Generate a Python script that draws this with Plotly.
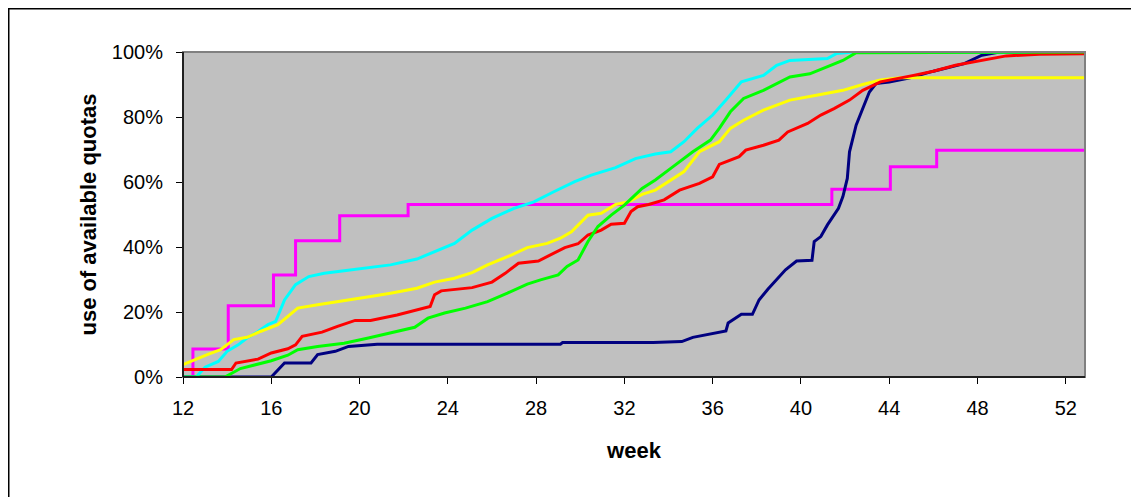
import plotly.graph_objects as go

# ---- data (week, cumulative share of quota used, %) ----
navy_w = [12, 16.0, 16.6, 17.8, 18.1, 18.9, 19.5, 20.8, 29.1, 29.2, 33.3, 34.6, 35.1, 35.9, 36.6, 36.7, 37.3, 37.8,
          38.1, 38.5, 38.9, 39.3, 39.8, 40.5, 40.6, 40.9, 41.2, 41.7, 41.9, 42.1, 42.2, 42.5, 42.8, 43.1, 43.4, 44.0,
          44.9, 46.0, 47.4, 48.2, 49.0, 52.87]
navy_v = [0, 0, 4.3, 4.3, 6.9, 7.9, 9.4, 10.1, 10.1, 10.6, 10.6, 10.9, 12.2, 13.2, 14.2, 16.6, 19.3, 19.3,
          23.7, 27.0, 29.9, 33.0, 35.7, 35.9, 41.7, 43.2, 46.8, 51.9, 55.5, 61.1, 69.3, 77.5, 82.6, 87.7, 90.3, 90.8,
          92.0, 94.1, 96.4, 99.0, 100, 100]

magenta_w = [12, 12.45, 14.05, 16.1, 17.1, 19.1, 22.2, 41.4, 44.05, 46.15, 52.87]
magenta_v = [0, 8.6, 21.9, 31.4, 41.9, 49.6, 53.1, 57.8, 64.7, 69.8, 69.8]

cyan_w = [12, 12.6, 13.0, 13.6, 14.0, 14.5, 14.9, 15.4, 15.85, 16.2, 16.6, 17.1, 17.7, 18.4, 19.3, 20.4, 21.4,
          22.6, 23.4, 24.3, 25.1, 26.0, 27.0, 27.9, 28.8, 29.75, 30.5, 31.6, 32.5, 33.4, 34.1, 34.7, 35.3, 36.0,
          36.6, 37.3, 38.3, 38.9, 39.5, 41.2, 41.6, 42.4, 52.87]
cyan_v = [0, 0, 3.0, 4.8, 7.9, 9.9, 12.0, 14.0, 16.1, 17.1, 23.7, 28.4, 30.9, 31.9, 32.7, 33.7, 34.5,
          36.3, 38.6, 41.1, 45.2, 48.8, 51.9, 53.9, 57.0, 60.1, 62.1, 64.4, 67.2, 68.6, 69.3, 72.4, 76.5, 80.6,
          85.2, 90.8, 92.8, 95.9, 97.4, 98.0, 99.5, 100, 100]

yellow_w = [12, 12.5, 13.1, 13.7, 14.0, 14.3, 14.9, 15.5, 16.3, 16.75, 17.2, 18.1, 19.3, 20.5, 21.4, 22.6, 23.4,
            24.3, 25.1, 25.8, 26.9, 27.6, 28.5, 29.1, 29.6, 30.05, 30.35, 30.95, 31.6, 32.2, 32.8, 33.4, 33.9,
            34.7, 35.4, 36.3, 36.8, 37.4, 38.3, 39.5, 40.7, 41.9, 42.8, 43.6, 44.5, 52.87]
yellow_v = [3.8, 5.3, 6.9, 8.4, 9.9, 11.5, 12.2, 14.0, 16.1, 18.6, 21.2, 22.2, 23.4, 24.8, 25.8, 27.3, 29.2,
            30.4, 32.1, 34.5, 37.6, 39.8, 41.1, 42.7, 44.7, 47.8, 49.8, 50.4, 53.1, 53.9, 56.2, 57.5, 59.6,
            63.2, 69.3, 72.4, 76.5, 79.0, 82.1, 85.2, 86.7, 88.2, 90.0, 91.4, 92.1, 92.1]

red_w = [12, 14.2, 14.4, 15.4, 16.0, 16.75, 17.1, 17.4, 18.3, 19.0, 19.8, 20.5, 21.7, 22.6, 23.2, 23.4, 23.7,
         25.1, 26.0, 26.6, 27.2, 28.1, 28.7, 29.3, 29.9, 30.35, 30.95, 31.4, 32.0, 32.3, 32.6, 33.1, 33.8, 34.5,
         35.4, 36.0, 36.3, 37.2, 37.5, 38.3, 39.0, 39.4, 40.3, 40.9, 41.5, 42.2, 42.8, 43.6, 45.1, 46.0, 47.0,
         48.1, 49.3, 50.8, 52.87]
red_v = [2.3, 2.3, 4.3, 5.5, 7.4, 8.7, 9.9, 12.5, 13.8, 15.6, 17.4, 17.4, 19.1, 20.7, 21.7, 25.3, 26.5,
         27.5, 29.2, 31.9, 35.0, 35.7, 37.8, 39.8, 41.0, 43.7, 45.2, 47.0, 47.3, 50.9, 52.4, 53.1, 54.5, 57.5,
         59.6, 61.6, 65.4, 67.8, 69.8, 71.3, 72.9, 75.4, 78.0, 80.6, 82.6, 85.2, 88.2, 90.8, 92.8, 94.1, 95.9,
         97.4, 98.8, 99.3, 99.5]

green_w = [12, 13.9, 14.6, 15.2, 16.0, 16.75, 17.2, 18.1, 19.3, 20.4, 21.6, 22.5, 23.1, 23.85, 24.8, 25.8, 26.7,
           27.6, 28.2, 29.0, 29.4, 29.9, 30.35, 30.8, 31.4, 32.0, 32.8, 33.4, 34.1, 35.1, 35.9, 36.3, 36.8, 37.4,
           38.3, 39.5, 40.4, 41.2, 41.9, 42.5, 52.87]
green_v = [0, 0, 2.6, 3.6, 5.0, 6.7, 8.4, 9.4, 10.4, 12.0, 14.0, 15.3, 18.1, 19.7, 21.2, 23.2, 25.8,
           28.6, 29.9, 31.4, 34.0, 36.0, 41.7, 46.3, 49.8, 52.9, 58.0, 60.6, 64.2, 69.3, 72.9, 76.5, 81.6, 85.7,
           88.2, 92.3, 93.3, 95.4, 97.4, 99.8, 100]

x_ticks = [12, 16, 20, 24, 28, 32, 36, 40, 44, 48, 52]
y_ticks = [0, 20, 40, 60, 80, 100]
y_tick_labels = ["0%", "20%", "40%", "60%", "80%", "100%"]

series = [
    (magenta_w, magenta_v, "#FF00FF", "hv"),
    (navy_w, navy_v, "#000080", "linear"),
    (cyan_w, cyan_v, "#00FFFF", "linear"),
    (yellow_w, yellow_v, "#FFFF00", "linear"),
    (red_w, red_v, "#FF0000", "linear"),
    (green_w, green_v, "#00FF00", "linear"),
]

fig = go.Figure()
for w, v, c, shp in series:
    fig.add_trace(go.Scatter(x=w, y=v, mode="lines", line=dict(color=c, width=3, shape=shp),
                             showlegend=False, hoverinfo="skip"))

FONT = "Liberation Sans, Arial, sans-serif"
# page body has an 8px margin, so the figure is 8px smaller and offset
W, H = 1131, 489
L, T = 175, 44
pw, ph = 902, 325
R, B = W - L - pw, H - T - ph

fig.update_layout(
    width=W, height=H,
    margin=dict(l=L, r=R, t=T, b=B),
    paper_bgcolor="white",
    plot_bgcolor="#C0C0C0",
    font=dict(family=FONT, size=20, color="black"),
    showlegend=False,
    xaxis=dict(range=[12, 52.87], tickvals=x_ticks, ticks="outside", ticklen=6, tickcolor="black",
               showline=True, linecolor="black", linewidth=1, showgrid=False, zeroline=False,
               tickfont=dict(size=20), ticklabelstandoff=7,
               title=dict(text="<b>week</b>", font=dict(size=22), standoff=24)),
    yaxis=dict(range=[0, 100], tickvals=y_ticks, ticktext=y_tick_labels, ticks="outside", ticklen=6,
               tickcolor="black", showline=True, linecolor="black", linewidth=1, showgrid=False,
               zeroline=False, tickfont=dict(size=20), ticklabelstandoff=9,
               title=dict(text="<b>use of available quotas</b>", font=dict(size=22), standoff=9)),
    shapes=[
        dict(type="rect", xref="paper", yref="paper", x0=0, x1=1, y0=0, y1=1,
             line=dict(color="#808080", width=2), layer="above"),
        dict(type="line", xref="paper", yref="paper", x0=0, x1=0, y0=0, y1=1,
             line=dict(color="black", width=1.5), layer="above"),
        dict(type="line", xref="paper", yref="paper", x0=0, x1=1, y0=0, y1=0,
             line=dict(color="black", width=1.5), layer="above"),
        # outer chart frame (right and bottom edges lie outside the window)
        dict(type="rect", xref="paper", yref="paper",
             x0=(0.75 - L) / pw, x1=(W + 20 - L) / pw,
             y0=-(B + 20) / ph, y1=(H - B - 0.75) / ph,
             line=dict(color="black", width=1.5), layer="below"),
    ],
)

fig.write_html("out.html")
